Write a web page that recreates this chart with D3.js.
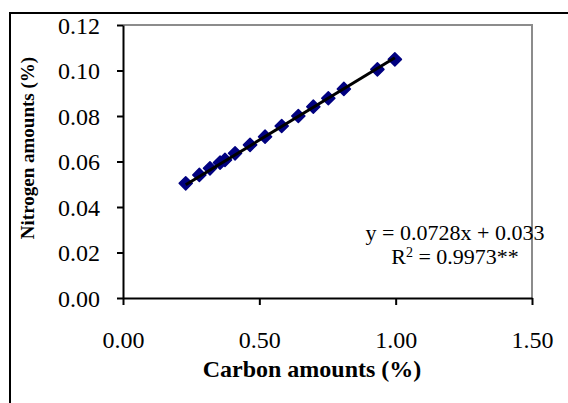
<!DOCTYPE html>
<html>
<head>
<meta charset="utf-8">
<script src="https://cdn.jsdelivr.net/npm/d3@7"></script>
<style>
  body { margin: 0; background: #fff; }
  svg text { font-family: "Liberation Serif", "Times New Roman", serif; }
</style>
</head>
<body>
<svg id="chart" width="568" height="403"></svg>
<script>
// carbon (%) vs nitrogen (%)
var carbon = [0.230, 0.280, 0.319, 0.356, 0.374, 0.411, 0.466, 0.521, 0.582, 0.643, 0.698, 0.753, 0.810, 0.933, 0.997];
var nitrogen = [0.0504, 0.0541, 0.0570, 0.0595, 0.0607, 0.0636, 0.0673, 0.0709, 0.0756, 0.0800, 0.0841, 0.0878, 0.0919, 0.1005, 0.1049];
var xTicks = [0, 0.5, 1.0, 1.5];
var yTicks = [0, 0.02, 0.04, 0.06, 0.08, 0.10, 0.12];
var slope = 0.0728, intercept = 0.033;
var eqLines = ["y = 0.0728x + 0.033", "R2 = 0.9973**"];

var svg = d3.select("#chart");
var plotLeft = 123, plotRight = 532, plotTop = 25, plotBottom = 298;

var x = d3.scaleLinear().domain([0, 1.5]).range([plotLeft, plotRight]);
var y = d3.scaleLinear().domain([0, 0.12]).range([plotBottom, plotTop]);

// outer frame
svg.append("rect").attr("x", 10).attr("y", 13).attr("width", 600).attr("height", 450)
	.attr("fill", "none").attr("stroke", "#000").attr("stroke-width", 2);

// plot box (grey top/right)
svg.append("path").attr("d", "M" + plotLeft + "," + plotTop + "H" + plotRight + "V" + plotBottom)
	.attr("fill", "none").attr("stroke", "#8c8c8c").attr("stroke-width", 2);

var xAxis = svg.append("g").attr("transform", "translate(0," + plotBottom + ")")
	.call(d3.axisBottom(x).tickValues(xTicks).tickFormat(d3.format(".2f")).tickSize(7).tickSizeOuter(0));
var yAxis = svg.append("g").attr("transform", "translate(" + plotLeft + ",0)")
	.call(d3.axisLeft(y).tickValues(yTicks).tickFormat(d3.format(".2f")).tickSize(6).tickSizeOuter(0));

[xAxis, yAxis].forEach(function (g) {
	g.select(".domain").attr("stroke", "#000").attr("stroke-width", 2);
	g.selectAll(".tick line").attr("stroke", "#000").attr("stroke-width", 2);
	g.selectAll(".tick text").attr("fill", "#000").style("font-size", "24px")
		.style("font-family", "Liberation Serif, serif");
});
xAxis.selectAll(".tick text").attr("y", 0).attr("dy", "50px");
yAxis.selectAll(".tick text").attr("x", -23).attr("dy", "0.35em");

// markers
var diamond = d3.symbol().type(d3.symbolDiamond2).size(110);
svg.append("g").selectAll("path").data(carbon).join("path")
	.attr("d", diamond)
	.attr("transform", function (d, i) { return "translate(" + x(d) + "," + y(nitrogen[i]) + ")"; })
	.attr("fill", "#000080").attr("stroke", "#000080").attr("stroke-width", 1.5)
	.attr("stroke-linejoin", "round");

// trend line
var x0 = d3.min(carbon), x1 = d3.max(carbon);
svg.append("line")
	.attr("x1", x(x0)).attr("y1", y(slope * x0 + intercept))
	.attr("x2", x(x1)).attr("y2", y(slope * x1 + intercept))
	.attr("stroke", "#000").attr("stroke-width", 3);

// equation
var eq = svg.append("text").attr("text-anchor", "middle").style("font-size", "22px").attr("fill", "#000");
eq.append("tspan").attr("x", 455).attr("y", 240).text(eqLines[0]);
var r2 = eq.append("tspan").attr("x", 455).attr("y", 264);
r2.append("tspan").text("R");
r2.append("tspan").attr("dy", -7).style("font-size", "14px").text("2");
r2.append("tspan").attr("dy", 7).text(" = 0.9973**");

// axis titles
svg.append("text").attr("x", 312).attr("y", 377).attr("text-anchor", "middle")
	.style("font-size", "24px").style("font-weight", "bold").text("Carbon  amounts (%)");
svg.append("text").attr("transform", "translate(34,148) rotate(-90)").attr("text-anchor", "middle")
	.style("font-size", "19px").style("font-weight", "bold").text("Nitrogen amounts (%)");
</script>
</body>
</html>
